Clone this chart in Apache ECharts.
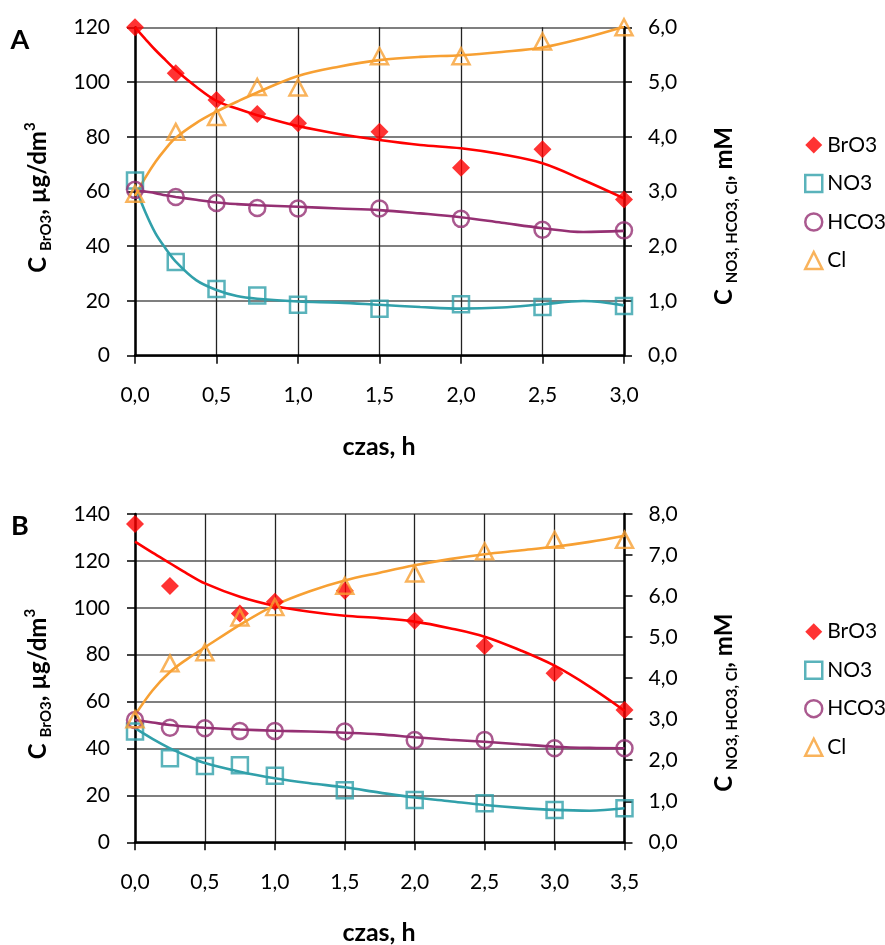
<!DOCTYPE html>
<html><head><meta charset="utf-8">
<script src="https://cdn.jsdelivr.net/npm/echarts/dist/echarts.min.js"></script>
<style>html,body{margin:0;padding:0;background:#fff}#c{width:885px;height:945px}</style>
</head><body><div id="c"></div><script>
// ---------- Panel A data ----------
const tA = [0, 0.25, 0.5, 0.75, 1.0, 1.5, 2.0, 2.5, 3.0];
const BrO3_A = [120, 103.2, 93.4, 88.3, 84.9, 81.8, 68.7, 75.4, 57.1];   // µg/dm3 (left axis)
const NO3_A  = [3.20, 1.71, 1.22, 1.10, 0.93, 0.86, 0.94, 0.89, 0.91];   // mM (right axis)
const HCO3_A = [3.03, 2.90, 2.79, 2.70, 2.69, 2.69, 2.50, 2.30, 2.29];
const Cl_A   = [2.96, 4.09, 4.36, 4.91, 4.90, 5.47, 5.47, 5.74, 6.00];
// trend curves
const trendTA = [0, 0.0625, 0.125, 0.1875, 0.25, 0.375, 0.5, 0.625, 0.75, 1.0, 1.25, 1.5, 1.75, 2.0, 2.25, 2.5, 2.75, 3.0];
const trBrO3_A = [120, 115.8, 111.7, 108, 104.4, 98.3, 93.1, 90.3, 87.9, 83.9, 81.0, 78.8, 77.0, 75.8, 73.6, 70.3, 64.2, 57.5];
const trNO3_A  = [3.10, 2.63, 2.24, 1.96, 1.72, 1.38, 1.20, 1.09, 1.04, 0.99, 0.97, 0.93, 0.89, 0.86, 0.88, 0.94, 1.00, 0.92];
const trHCO3_A = [3.03, 3.00, 2.97, 2.93, 2.90, 2.85, 2.80, 2.77, 2.75, 2.72, 2.69, 2.66, 2.60, 2.53, 2.43, 2.33, 2.26, 2.28];
const trCl_A   = [2.92, 3.25, 3.54, 3.78, 3.98, 4.25, 4.46, 4.64, 4.81, 5.11, 5.28, 5.40, 5.46, 5.49, 5.55, 5.63, 5.80, 6.01];

// ---------- Panel B data ----------
const tB = [0, 0.25, 0.5, 0.75, 1.0, 1.5, 2.0, 2.5, 3.0, 3.5];
const BrO3_B = [135.7, 109.3, null, 97.6, 102.6, 107.3, 94.5, 83.7, 72.1, 56.4];
const NO3_B  = [2.70, 2.05, 1.86, 1.88, 1.62, 1.27, 1.03, 0.95, 0.79, 0.83];
const HCO3_B = [2.98, 2.79, 2.78, 2.71, 2.71, 2.70, 2.49, 2.49, 2.29, 2.29];
const Cl_B   = [3.00, 4.36, 4.63, 5.48, 5.73, 6.25, 6.55, 7.09, 7.37, 7.37];
const trendTB = [0, 0.125, 0.25, 0.375, 0.5, 0.75, 1.0, 1.25, 1.5, 1.75, 2.0, 2.25, 2.5, 2.75, 3.0, 3.25, 3.5];
const trBrO3_B = [128.2, 123.5, 119.0, 114.5, 110.4, 104.7, 100.8, 98.3, 96.6, 95.6, 94.1, 91.3, 87.7, 82.0, 75.3, 66.4, 56.1];
const trNO3_B  = [2.78, 2.52, 2.29, 2.10, 1.93, 1.72, 1.56, 1.44, 1.34, 1.21, 1.09, 1.00, 0.91, 0.84, 0.79, 0.77, 0.83];
const trHCO3_B = [2.98, 2.92, 2.86, 2.82, 2.79, 2.75, 2.72, 2.70, 2.67, 2.63, 2.56, 2.50, 2.45, 2.39, 2.33, 2.30, 2.29];
const trCl_B   = [3.10, 3.70, 4.15, 4.47, 4.75, 5.30, 5.78, 6.12, 6.38, 6.57, 6.75, 6.90, 7.02, 7.11, 7.20, 7.32, 7.47];

const names = ['BrO3', 'NO3', 'HCO3', 'Cl'];
const xTitle = 'czas, h';

const FONT = 'Lato';
const COL = {BrO3: '#FF0000', NO3: '#31A0AA', HCO3: '#953073', Cl: '#F7A033'};
const SYM = {BrO3: 'diamond', NO3: 'rect', HCO3: 'circle', Cl: 'triangle'};
const SIZE = {BrO3: [18, 18], NO3: [16, 16], HCO3: [16, 16], Cl: [17, 16]};

const pairs = (t, v) => t.map((x, i) => [x, v[i]]).filter(p => p[1] !== null);
const comma = v => v.toFixed(1).replace('.', ',');

function markerStyle(n) {
  return n === 'BrO3' ? {color: COL[n]} : {color: 'rgba(0,0,0,0)', borderColor: COL[n], borderWidth: 2.5};
}

function scatter(n, t, v, xi, yi) {
  return {name: n, type: 'scatter', xAxisIndex: xi, yAxisIndex: yi, data: pairs(t, v),
    symbol: SYM[n], symbolSize: SIZE[n], itemStyle: markerStyle(n), z: 4};
}
function trend(n, t, v, xi, yi, id) {
  return {name: n + ' trend ' + id, type: 'line', xAxisIndex: xi, yAxisIndex: yi, data: pairs(t, v),
    smooth: 0.35, showSymbol: false, symbol: 'none', lineStyle: {color: COL[n], width: 2.6}, z: 3};
}

function xAxis(gi, max) {
  return {type: 'value', gridIndex: gi, min: 0, max: max, interval: 0.5,
    axisLine: {show: true, onZero: false, lineStyle: {color: '#000', width: 2.5}},
    axisTick: {show: true, inside: false, length: 8, lineStyle: {color: '#000', width: 1.5}},
    axisLabel: {formatter: comma, fontFamily: FONT, fontSize: 21, color: '#000', margin: 29, lineHeight: 21},
    splitLine: {show: true, lineStyle: {color: '#222', width: 1.3}}};
}
function yLeft(gi, max) {
  return {type: 'value', gridIndex: gi, position: 'left', min: 0, max: max, interval: 20,
    axisLine: {show: true, onZero: false, lineStyle: {color: '#000', width: 2.5}},
    axisTick: {show: true, inside: false, length: 8, lineStyle: {color: '#000', width: 1.5}},
    axisLabel: {fontFamily: FONT, fontSize: 21, color: '#000', margin: 25},
    splitLine: {show: true, lineStyle: {color: '#555', width: 1.5}}};
}
function yRight(gi, max) {
  return {type: 'value', gridIndex: gi, position: 'right', min: 0, max: max, interval: 1,
    axisLine: {show: true, onZero: false, lineStyle: {color: '#000', width: 2.5}},
    axisTick: {show: true, inside: false, length: 8, lineStyle: {color: '#000', width: 1.5}},
    axisLabel: {formatter: comma, fontFamily: FONT, fontSize: 21, color: '#000', margin: 24},
    splitLine: {show: false}};
}

function legend(top) {
  return {orient: 'vertical', left: 799, top: top, itemWidth: 17, itemHeight: 17, itemGap: 16.5,
    selectedMode: false, textStyle: {fontFamily: FONT, fontSize: 21, color: '#000', lineHeight: 22},
    data: names.map(n => ({name: n, icon: SYM[n], itemStyle: markerStyle(n)}))};
}

const rich = {
  m: {fontFamily: FONT, fontSize: 24, fontWeight: 'bold', fill: '#000'},
  s: {fontFamily: FONT, fontSize: 15, fontWeight: 'bold', fill: '#000', padding: [17, 0, 0, 0]},
  p: {fontFamily: FONT, fontSize: 15, fontWeight: 'bold', fill: '#000', padding: [0, 0, 15, 0]}
};
function vTitle(text, x, y) {
  return {type: 'text', x: x, y: y, rotation: Math.PI / 2,
    style: {text: text, rich: rich, align: 'center', verticalAlign: 'middle', fill: '#000'}};
}
function plainText(text, x, y, size) {
  return {type: 'text', x: x, y: y,
    style: {text: text, fontFamily: FONT, fontSize: size, fontWeight: 'bold', fill: '#000', align: 'center', verticalAlign: 'middle'}};
}

const leftTitle = '{m|C }{s|BrO3}{m|, µg/dm}{p|3}';
const rightTitle = '{m|C }{s|NO3, HCO3, Cl}{m|, mM}';

const series = [];
[[0, 0, 1, tA, trendTA, {BrO3: BrO3_A, NO3: NO3_A, HCO3: HCO3_A, Cl: Cl_A}, {BrO3: trBrO3_A, NO3: trNO3_A, HCO3: trHCO3_A, Cl: trCl_A}, 'A'],
 [1, 2, 3, tB, trendTB, {BrO3: BrO3_B, NO3: NO3_B, HCO3: HCO3_B, Cl: Cl_B}, {BrO3: trBrO3_B, NO3: trNO3_B, HCO3: trHCO3_B, Cl: trCl_B}, 'B']
].forEach(([xi, yl, yr, t, tt, pts, trs, id]) => {
  names.forEach(n => series.push(trend(n, tt, trs[n], xi, n === 'BrO3' ? yl : yr, id)));
  names.forEach(n => series.push(scatter(n, t, pts[n], xi, n === 'BrO3' ? yl : yr)));
});

const chart = echarts.init(document.getElementById('c'), null, {renderer: 'canvas'});
chart.setOption({
  animation: false,
  backgroundColor: '#fff',
  grid: [
    {left: 135, top: 27.3, width: 489, height: 328.4, outerBoundsMode: 'none'},
    {left: 135, top: 514, width: 489.5, height: 328.3, outerBoundsMode: 'none'}
  ],
  xAxis: [xAxis(0, 3), xAxis(1, 3.5)],
  yAxis: [yLeft(0, 120), yRight(0, 6), yLeft(1, 140), yRight(1, 8)],
  legend: [legend(129), legend(615.7)],
  series: series,
  graphic: [
    plainText('A', 20, 40, 27),
    plainText('B', 20, 526, 27),
    vTitle(leftTitle, 38, 197.5),
    vTitle(rightTitle, 724, 216),
    plainText(xTitle, 379, 446.7, 25),
    vTitle(leftTitle, 38, 684),
    vTitle(rightTitle, 724, 702.7),
    plainText(xTitle, 379, 933, 25)
  ]
});
</script></body></html>
